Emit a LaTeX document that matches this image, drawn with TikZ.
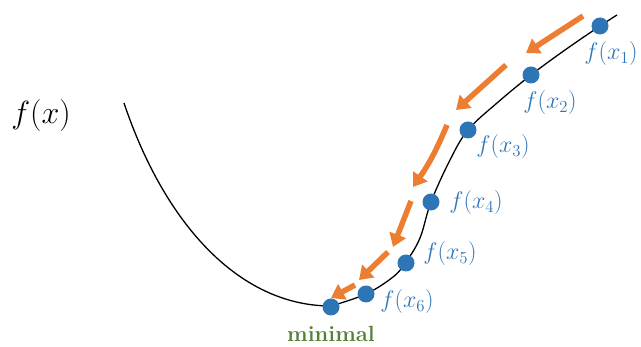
\RequirePackage{fix-cm}
\documentclass[tikz,border=0pt]{standalone}
\usetikzlibrary{arrows.meta}
\definecolor{dotblue}{RGB}{46,117,182}
\definecolor{arrorange}{RGB}{237,125,49}
\definecolor{mingreen}{RGB}{84,130,53}
\begin{document}
\begin{tikzpicture}[x=1pt,y=-1pt,
  dot/.style={circle,fill=dotblue,inner sep=0pt,minimum size=17pt},
  lab/.style={text=dotblue,inner sep=0pt,font=\fontsize{24}{28}\selectfont},
  garr/.style={draw=arrorange,line width=5.5pt,-{Triangle[length=13pt,width=17pt]}}]
\useasboundingbox (0,0) rectangle (641,347);
\draw[line width=1.3pt] (124,103) .. controls (165,225) and (240,306) .. (331,306);
\draw[line width=1.3pt] plot[smooth,tension=0.6] coordinates {(331,306) (366,294) (393,277) (406,262) (420,238) (431,202) (450,160) (468,130) (497,103) (531,75) (565,50) (600,26) (617,15)};
\node[dot] (p1) at (600,26) {};
\node[dot] (p2) at (531,75) {};
\node[dot] (p3) at (468,130) {};
\node[dot] (p4) at (431,202) {};
\node[dot] (p5) at (406,263) {};
\node[dot] (p6) at (366,294) {};
\node[dot] (pm) at (331,307) {};
\node[lab] (l1) at (611,54) {$f(x_1)$};
\node[lab] (l2) at (550,103) {$f(x_2)$};
\node[lab] (l3) at (503,147) {$f(x_3)$};
\node[lab] (l4) at (476,203) {$f(x_4)$};
\node[lab] (l5) at (450,254) {$f(x_5)$};
\node[lab] (l6) at (407,302) {$f(x_6)$};
\node[inner sep=0pt,font=\fontsize{32}{36}\selectfont] (fx) at (41,116) {$f(x)$};
\node[inner sep=0pt,text=mingreen,font=\fontsize{22}{26}\selectfont\bfseries] (mn) at (331,334) {minimal};
\coordinate (a1s) at (583,16); \coordinate (a1e) at (526,53);
\coordinate (a2s) at (506,65); \coordinate (a2e) at (456,110);
\coordinate (a3s) at (447,125); \coordinate (a3e) at (413,187);
\coordinate (a4s) at (411,201); \coordinate (a4e) at (393,247);
\coordinate (a5s) at (388,252); \coordinate (a5e) at (359,280);
\coordinate (a6s) at (355,285); \coordinate (a6e) at (331,298);
\draw[garr] (a1s) -- (a1e);
\draw[garr] (a2s) -- (a2e);
\draw[garr] (a3s) to[bend left=6] (a3e);
\draw[garr] (a4s) -- (a4e);
\draw[garr] (a5s) -- (a5e);
\draw[garr] (a6s) -- (a6e);
\end{tikzpicture}
\end{document}
